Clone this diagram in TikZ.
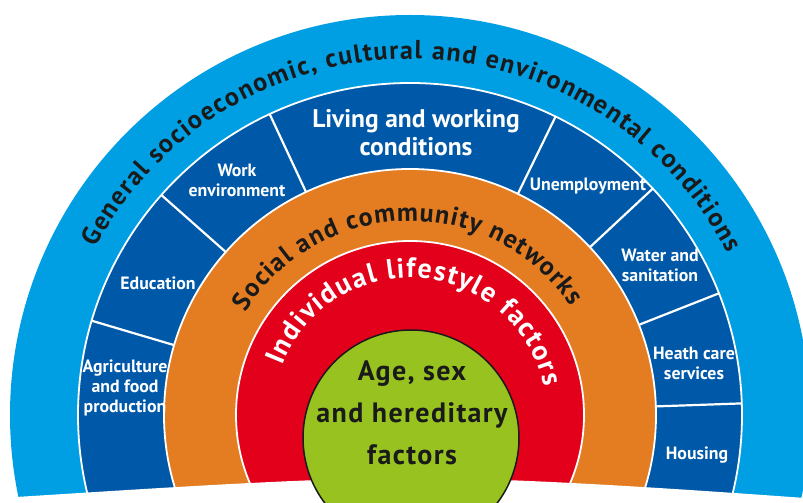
\documentclass[tikz,border=0pt]{standalone}
\usepackage{fontspec}
\setmainfont{PT Sans}
\usetikzlibrary{calc,decorations.text}
\definecolor{lblue}{HTML}{009FE3}
\definecolor{dblue}{HTML}{0059A8}
\definecolor{orng}{HTML}{E47C21}
\definecolor{rred}{HTML}{E2001A}
\definecolor{grn}{HTML}{97C21F}
\definecolor{ink}{HTML}{1A1A1A}
\begin{document}
\begin{tikzpicture}[x=1pt,y=1pt,
  lbl/.style={text=white, align=center, font=\bfseries\fontsize{17.8}{20}\selectfont, inner sep=0pt},
  ringline/.style={draw=white, line width=1.8pt},
  divider/.style={draw=white, line width=2.2pt}]
\useasboundingbox (0,0) rectangle (803,503);
\clip (0,0) rectangle (803,503);
\fill[white] (0,0) rectangle (803,503);
\coordinate (C) at (410,88);
% rings
\fill[lblue] (C) circle[radius=400pt];
\filldraw[fill=dblue, ringline] (C) circle[radius=332pt];
\filldraw[fill=orng, ringline] (C) circle[radius=246pt];
\filldraw[fill=rred, ringline] (C) circle[radius=174pt];
% dividers
\foreach \a/\n in {163.5/1,138.5/2,115/3,64/4,43/5,21.5/6,2/7} {
  \coordinate (di\n) at ($(C)+(\a:246pt)$);
  \coordinate (do\n) at ($(C)+(\a:332pt)$);
  \draw[divider] (di\n) -- (do\n);
}
% curved texts
\coordinate (t1s) at ($(C)+(152:356pt)$);
\path[decorate, decoration={text along path, text align=fit to path, text color=ink,
  text={|\fontsize{26}{26}\selectfont\bfseries|General socioeconomic, cultural and environmental conditions}}]
  (t1s) arc[start angle=152, end angle=27, radius=356pt];
\coordinate (t2s) at ($(C)+(148:194pt)$);
\path[decorate, decoration={text along path, text align=fit to path, text color=ink,
  text={|\fontsize{26}{26}\selectfont\bfseries|Social and community networks}}]
  (t2s) arc[start angle=148, end angle=34, radius=194pt];
\coordinate (t3s) at ($(C)+(159:137pt)$);
\path[decorate, decoration={text along path, text align=fit to path, text color=white,
  text={|\fontsize{28}{28}\selectfont\bfseries|Individual lifestyle factors}}]
  (t3s) arc[start angle=159, end angle=12, radius=137pt];
% bottom white cut
\fill[white] (-2,-2) -- (-2,5) -- (0,5) .. controls (130,13) and (300,25) .. (410,25)
  .. controls (520,25) and (680,14) .. (805,5) -- (805,-2) -- cycle;
% core
\node[circle, fill=grn, draw=ink, line width=1.5pt, minimum size=216pt, inner sep=0pt] (core) at (411,65) {};
\node[text=ink, align=center, inner sep=0pt, font=\fontsize{28}{42}\selectfont\bfseries\addfontfeature{LetterSpace=5}] (age) at (412,90) {Age, sex\\and hereditary\\factors};
% labels in dark blue band
\node[lbl, font=\bfseries\fontsize{25.5}{28}\selectfont] (living) at (416,370) {Living and working\\conditions};
\node[lbl] (work) at (237,323) {Work\\environment};
\node[lbl] (edu) at (158,220) {Education};
\node[lbl] (agri) at (125,115) {Agriculture\\and food\\production};
\node[lbl] (unemp) at (588,317) {Unemployment};
\node[lbl] (water) at (660,238) {Water and\\sanitation};
\node[lbl] (health) at (694,140) {Heath care\\services};
\node[lbl] (housing) at (697,48) {Housing};
\end{tikzpicture}
\end{document}
